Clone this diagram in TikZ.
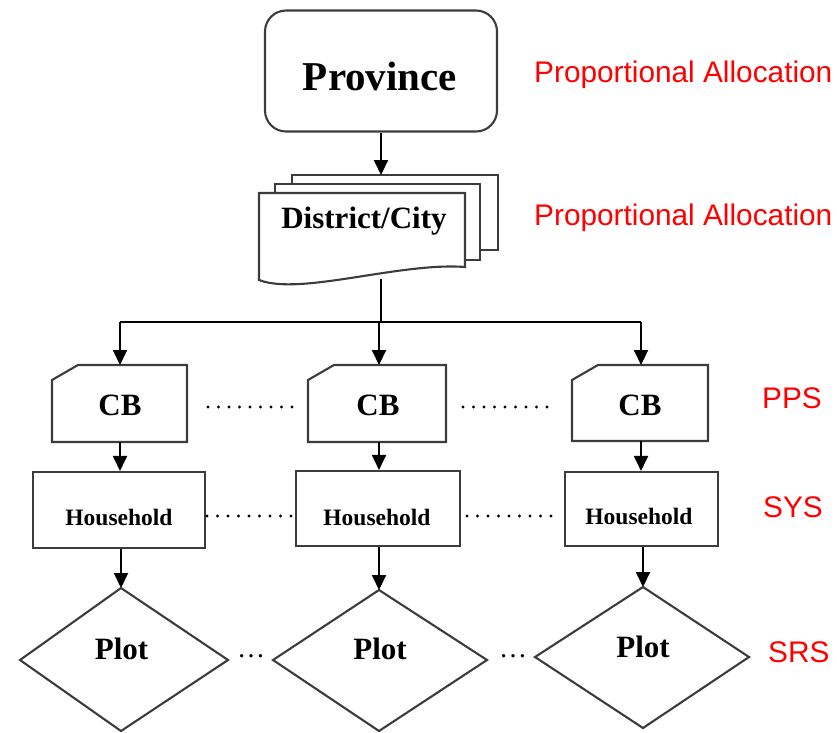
\documentclass[tikz,border=0pt]{standalone}
\usepackage{fontspec}
\setmainfont{Liberation Serif}
\newfontfamily\labelfont{Liberation Sans}
\usetikzlibrary{arrows.meta}
\definecolor{boxline}{HTML}{3C3C3C}
\definecolor{labred}{HTML}{FF0000}
\begin{document}
\begin{tikzpicture}[x=1pt,y=-1pt,
  boxstyle/.style={draw=boxline,line width=2.1pt,fill=white},
  arr/.style={-{Triangle[length=15pt,width=14pt]},line width=1.9pt,black},
  conn/.style={line width=1.9pt,black},
  dotline/.style={line width=3.2pt,line cap=round,dash pattern=on 0pt off 10.5pt},
  lab/.style={text=labred,font=\labelfont\fontsize{29.8}{32}\selectfont,anchor=base west,inner sep=0pt},
  bigtext/.style={font=\bfseries\fontsize{41}{44}\selectfont,anchor=base,inner sep=0pt},
  midtext/.style={font=\bfseries\fontsize{31}{34}\selectfont,anchor=base,inner sep=0pt},
  smalltext/.style={font=\bfseries\fontsize{23.5}{26}\selectfont,anchor=base,inner sep=0pt},
  ell/.style={font=\fontsize{28}{30}\selectfont,anchor=base,inner sep=0pt},
]
\useasboundingbox (0,0) rectangle (837,732);

% Province
\node[boxstyle,rounded corners=21pt,minimum width=232pt,minimum height=121pt,inner sep=0pt] (prov) at (381,71) {};
\node[bigtext] (provt) at (380,90) {Province};

% District/City stacked documents
\draw[boxstyle] (292,175) rectangle (498,250);
\draw[boxstyle] (275,184) rectangle (480,260);
\draw[boxstyle] (259,193) -- (465,193) -- (465,267) .. controls (400,262) and (300,296) .. (259,280) -- cycle;
\node[midtext] (distt) at (364,228) {District/City};
\coordinate (doctop) at (381,175);
\coordinate (docbot) at (381,279);

% CB boxes
\draw[boxstyle] (52,380) -- (78,365) -- (187,365) -- (187,442) -- (52,442) -- cycle;
\draw[boxstyle] (308,380) -- (334,365) -- (446,365) -- (446,442) -- (308,442) -- cycle;
\draw[boxstyle] (572,380) -- (598,365) -- (708,365) -- (708,441) -- (572,441) -- cycle;
\node[midtext] (cb1) at (120,415) {CB};
\node[midtext] (cb2) at (378,415) {CB};
\node[midtext] (cb3) at (640,415) {CB};
\coordinate (cb1n) at (120,365); \coordinate (cb1s) at (120,442);
\coordinate (cb2n) at (379,365); \coordinate (cb2s) at (379,442);
\coordinate (cb3n) at (641,365); \coordinate (cb3s) at (641,441);

% Household boxes
\node[boxstyle,minimum width=172pt,minimum height=76pt,inner sep=0pt] (h1) at (119,510) {};
\node[boxstyle,minimum width=164pt,minimum height=75pt,inner sep=0pt] (h2) at (378,508.5) {};
\node[boxstyle,minimum width=153pt,minimum height=74pt,inner sep=0pt] (h3) at (641.5,509) {};
\node[smalltext] (h1t) at (119,525) {Household};
\node[smalltext] (h2t) at (377,525) {Household};
\node[smalltext] (h3t) at (639,524) {Household};

% Plot diamonds
\draw[boxstyle] (121,588) -- (228,660) -- (121,731) -- (20,660) -- cycle;
\draw[boxstyle] (379,590) -- (487,660) -- (379,731) -- (273,660) -- cycle;
\draw[boxstyle] (643,587) -- (749,657) -- (643,728) -- (535,657) -- cycle;
\coordinate (p1n) at (121,588);
\coordinate (p2n) at (379,590);
\coordinate (p3n) at (643,587);
\node[midtext] (p1t) at (121.5,659) {Plot};
\node[midtext] (p2t) at (380,659) {Plot};
\node[midtext] (p3t) at (643,657) {Plot};

% Connectors
\draw[arr] (prov.south -| doctop) -- (doctop);
\coordinate (split) at (381,322);
\coordinate (splitL) at (120,322);
\coordinate (splitR) at (641,322);
\draw[conn] (docbot) -- (split);
\draw[conn] (splitL) -- (splitR);
\draw[arr] (splitL) -- (cb1n);
\draw[arr] (split -| cb2n) -- (cb2n);
\draw[arr] (splitR) -- (cb3n);
\draw[arr] (cb1s) -- (cb1s |- h1.north);
\draw[arr] (cb2s) -- (cb2s |- h2.north);
\draw[arr] (cb3s) -- (cb3s |- h3.north);
\draw[arr] (h1.south -| p1n) -- (p1n);
\draw[arr] (h2.south -| p2n) -- (p2n);
\draw[arr] (h3.south -| p3n) -- (p3n);

% dotted separators
\coordinate (d1a) at (208,407); \coordinate (d1b) at (292,407);
\coordinate (d2a) at (463,407); \coordinate (d2b) at (547,407);
\coordinate (d3a) at (207,516); \coordinate (d3b) at (291,516);
\coordinate (d4a) at (467,516); \coordinate (d4b) at (551,516);
\draw[dotline] (d1a) -- (d1b);
\draw[dotline] (d2a) -- (d2b);
\draw[dotline] (d3a) -- (d3b);
\draw[dotline] (d4a) -- (d4b);
\node[ell] (e1) at (251,657) {…};
\node[ell] (e2) at (513,657) {…};

% labels
\node[lab] (l1) at (534,82) {Proportional Allocation};
\node[lab] (l2) at (534,225) {Proportional Allocation};
\node[lab] (l3) at (762,408) {PPS};
\node[lab] (l4) at (763,517) {SYS};
\node[lab] (l5) at (768,662) {SRS};
\end{tikzpicture}
\end{document}
